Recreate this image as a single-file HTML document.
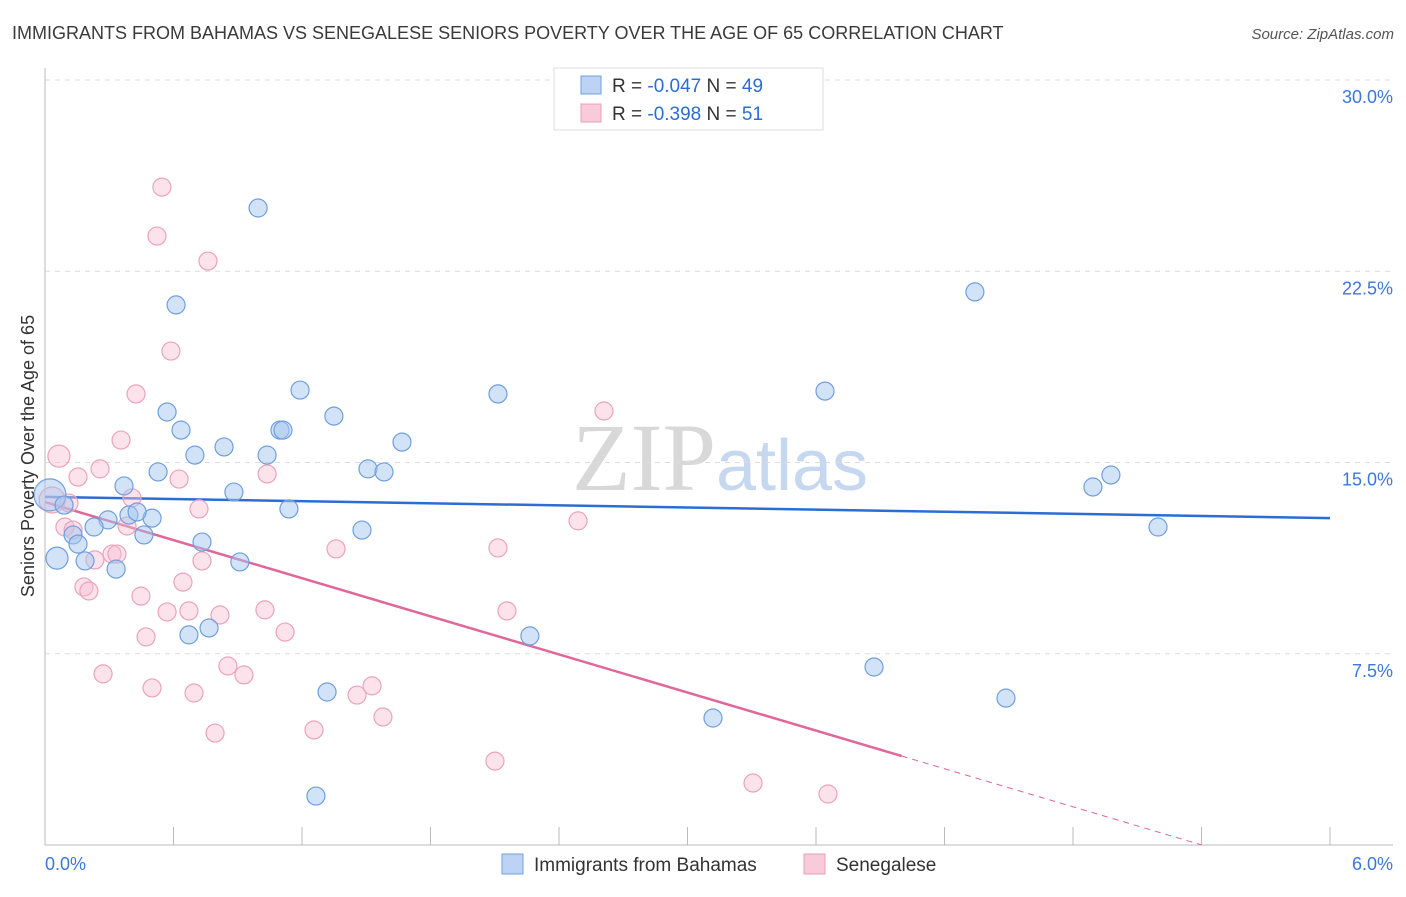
<!DOCTYPE html>
<html><head><meta charset="utf-8"><style>
body{margin:0;background:#fff;font-family:"Liberation Sans",sans-serif;}
svg text{font-family:"Liberation Sans",sans-serif;}
</style></head><body>
<svg id="chart" width="1406" height="892" viewBox="0 0 1406 892" xmlns="http://www.w3.org/2000/svg">
<text x="12" y="39" font-size="18" fill="#3a3a3a">IMMIGRANTS FROM BAHAMAS VS SENEGALESE SENIORS POVERTY OVER THE AGE OF 65 CORRELATION CHART</text>
<text x="1394" y="39" font-size="15" fill="#555" font-style="italic" text-anchor="end">Source: ZipAtlas.com</text>
<text x="720" y="490" font-size="96" text-anchor="middle"><tspan fill="#d8d8d8" font-family="Liberation Serif">ZIP</tspan><tspan fill="#c5d8f0" font-size="72">atlas</tspan></text>
<g id="grid"></g>
<g id="axes"></g>
<g id="lines"></g>
<g id="points"></g>
<text transform="translate(34,456) rotate(-90)" font-size="18" fill="#333" text-anchor="middle">Seniors Poverty Over the Age of 65</text>
<g>
<rect x="554" y="68" width="269" height="62" fill="#fff" stroke="#ddd"/>
<rect x="581" y="76" width="20" height="18" fill="#bcd3f3" stroke="#6f9fe0"/>
<text x="612" y="92" font-size="19" fill="#333">R = <tspan fill="#2a6dd4">-0.047</tspan>    N = <tspan fill="#2a6dd4">49</tspan></text>
<rect x="581" y="104" width="20" height="18" fill="#f9cad9" stroke="#eaa0b8"/>
<text x="612" y="120" font-size="19" fill="#333">R =  <tspan fill="#2a6dd4">-0.398</tspan>    N =  <tspan fill="#2a6dd4">51</tspan></text>
</g>
<g>
<rect x="502" y="854" width="21" height="20" fill="#bcd3f3" stroke="#6f9fe0"/>
<text x="534" y="871" font-size="19" fill="#333">Immigrants from Bahamas</text></g>
<g>
<rect x="804" y="854" width="21" height="20" fill="#f9cad9" stroke="#eaa0b8"/>
<text x="836" y="871" font-size="19" fill="#333">Senegalese</text></g>
</svg>
<script>
const yTicks=[7.5,15,22.5,30];
const yTickLabels=["7.5%","15.0%","22.5%","30.0%"];
const xTickLabels=["0.0%","6.0%"];
const blueX=[0.995,0.612,4.342,3.642,2.115,1.191,1.349,0.570,0.635,1.097,1.111,1.667,0.836,0.700,1.037,0.528,1.508,1.583,4.977,4.893,0.369,0.882,1.139,0.392,0.500,0.430,0.294,0.229,1.480,5.197,0.131,0.462,0.154,0.733,0.056,0.187,0.332,0.910,2.264,0.672,0.766,3.871,1.317,4.487,3.119,1.265,0.023,0.089];
const blueY=[24.98,21.18,21.69,17.80,17.69,17.84,16.82,16.98,16.27,16.27,16.27,15.80,15.61,15.29,15.29,14.63,14.75,14.63,14.51,14.04,14.08,13.84,13.18,12.94,12.82,13.06,12.75,12.47,12.35,12.47,12.16,12.16,11.80,11.88,11.25,11.14,10.82,11.10,8.20,8.24,8.51,6.98,6.00,5.76,4.98,1.92,13.73,13.33];
const blueR=[9,9,9,9,9,9,9,9,9,9,9,9,9,9,9,9,9,9,9,9,9,9,9,9,9,9,9,9,9,9,9,9,9,9,11,9,9,9,9,9,9,9,9,9,9,9,16,9];
const pinkX=[0.546,0.523,0.761,0.588,0.425,2.610,0.355,0.065,0.257,0.154,0.626,1.037,0.406,0.719,0.112,0.093,0.383,2.489,0.131,1.359,2.115,0.313,0.336,0.233,0.733,0.182,0.205,0.644,0.448,0.570,0.672,0.817,1.027,2.157,1.121,0.472,0.854,0.271,0.929,0.500,0.696,1.527,1.457,1.578,0.794,1.256,2.101,3.306,3.656,0.033];
const pinkY=[25.80,23.88,22.90,19.37,17.69,17.02,15.88,15.25,14.75,14.43,14.35,14.55,13.61,13.18,13.41,12.47,12.51,12.71,12.35,11.61,11.65,11.41,11.41,11.18,11.14,10.12,9.96,10.31,9.76,9.14,9.18,9.02,9.22,9.18,8.35,8.16,7.02,6.71,6.67,6.16,5.96,6.24,5.88,5.02,4.39,4.51,3.29,2.43,2.00,13.53];
const pinkR=[9,9,9,9,9,9,9,11,9,9,9,9,9,9,9,9,9,9,9,9,9,9,9,9,9,9,9,9,9,9,9,9,9,9,9,9,9,9,9,9,9,9,9,9,9,9,9,9,9,13];
const blueTrend=[13.65,12.82];
const pinkTrend=[13.45,-2.49];
const pinkSolidEnd=4.0;

const NS="http://www.w3.org/2000/svg";
const X=v=>45+v/6*1285;
const Y=v=>845-v*25.5;
function mk(tag,attrs,parent){const e=document.createElementNS(NS,tag);for(const k in attrs)e.setAttribute(k,attrs[k]);document.getElementById(parent).appendChild(e);return e;}
yTicks.forEach((t,i)=>{
 const l=mk('line',{x1:45,x2:1393,y1:Y(t),y2:Y(t),stroke:'#dcdcdc','stroke-dasharray':'5,5'},'grid');
 
 
 const tx=mk('text',{x:1393,y:Y(t)+23,'font-size':18,fill:'#3b78d8','text-anchor':'end'},'grid');
 tx.textContent=yTickLabels[i];
 
 
});
const ax=mk('line',{x1:45,x2:45,y1:68,y2:845,stroke:'#bbb'},'axes');


const bx=mk('line',{x1:45,x2:1393,y1:845,y2:845,stroke:'#bbb'},'axes');


for(let i=0;i<=10;i++){
 const t=mk('line',{x1:X(i*0.6),x2:X(i*0.6),y1:827,y2:845,stroke:'#bbb'},'axes');
 
 
}
[[0,'start',45],[6,'end',1393]].forEach((d,i)=>{
 const tx=mk('text',{x:d[2],y:870,'font-size':18,fill:'#3b78d8','text-anchor':d[1]},'axes');
 tx.textContent=xTickLabels[i];
 
 
});
function pts(xs,ys,rs,fill,stroke,name){
 xs.forEach((x,i)=>{
  const c=mk('circle',{cx:X(x),cy:Y(ys[i]),r:rs[i],fill:fill,stroke:stroke,'stroke-width':1.2},'points');
  
  
 });
}
pts(pinkX,pinkY,pinkR,'rgba(248,190,210,0.45)','#eba3bb','senegalese-point');
pts(blueX,blueY,blueR,'rgba(165,198,240,0.5)','#6f9fe0','bahamas-point');
const bl=mk('line',{x1:X(0),y1:Y(blueTrend[0]),x2:X(6),y2:Y(blueTrend[1]),stroke:'#2a6dd4','stroke-width':2.5},'lines');


const pe=-pinkTrend[0]/pinkTrend[1];
const pl=mk('line',{x1:X(0),y1:Y(pinkTrend[0]),x2:X(pinkSolidEnd),y2:Y(pinkTrend[0]+pinkTrend[1]*pinkSolidEnd),stroke:'#e0679a','stroke-width':2.5},'lines');


const pd=mk('line',{x1:X(pinkSolidEnd),y1:Y(pinkTrend[0]+pinkTrend[1]*pinkSolidEnd),x2:X(pe),y2:Y(0),stroke:'#e0679a','stroke-width':1,'stroke-dasharray':'6,5'},'lines');


</script>
</body></html>
